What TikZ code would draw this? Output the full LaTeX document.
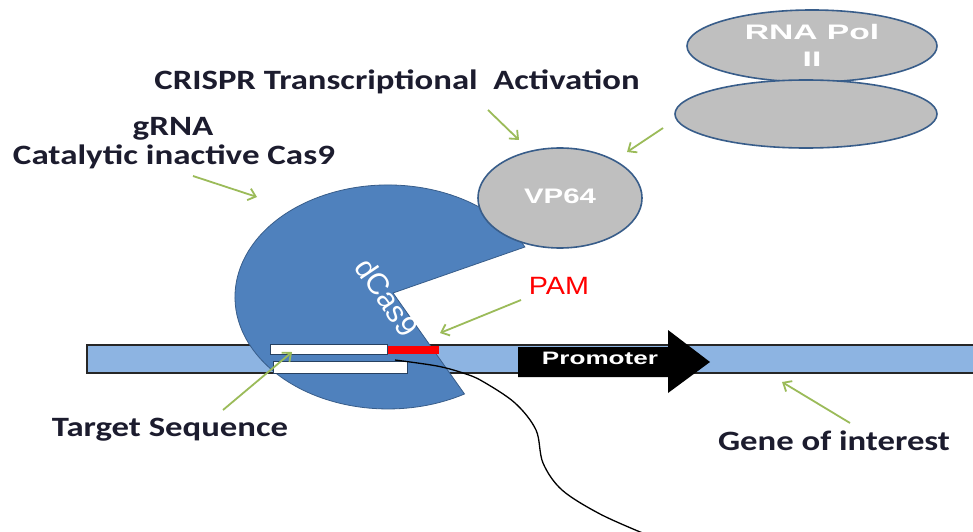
\documentclass[tikz,border=0pt]{standalone}
\usepackage{fontspec}
\setmainfont{Carlito}
\newfontfamily\sansf{Liberation Sans}
\usetikzlibrary{arrows.meta,shapes.geometric}

\definecolor{casblue}{HTML}{4F81BD}
\definecolor{edgeblue}{HTML}{385D8A}
\definecolor{dnablue}{HTML}{8DB4E2}
\definecolor{polgray}{HTML}{BFBFBF}
\definecolor{pointergreen}{HTML}{9BBB59}
\definecolor{ink}{HTML}{1C1C2E}
\definecolor{pamred}{HTML}{FF0000}

% horizontally widened text
\newcommand{\widetxt}[2]{\scalebox{#1}[1]{#2}}

\begin{document}
\begin{tikzpicture}[x=1pt,y=1pt,
  caption/.style={font=\fontsize{28}{30}\selectfont\bfseries, text=ink, inner sep=0pt, align=center},
  whitelabel/.style={font=\sansf\fontsize{21}{25}\selectfont\bfseries, text=white, inner sep=0pt, align=center},
  pointer/.style={draw=pointergreen, line width=1.8pt, -{Straight Barb[length=7pt,width=12pt]}},
  blob/.style={draw=edgeblue, line width=1.6pt, fill=polgray},
  strandbox/.style={draw=edgeblue!70!black, line width=0.6pt, fill=white}
]
\useasboundingbox (0,0) rectangle (973,531);
\fill[white] (0,0) rectangle (973,531);

% DNA double strand
\draw[fill=dnablue, draw=black!85, line width=1.5pt] (87,158) rectangle (990,186);

% dCas9 (pac-man shaped protein)
\filldraw[fill=casblue, draw=edgeblue, line width=0.8pt]
  (393,238) -- (524.9,284.0) arc[start angle=26.5, end angle=300, x radius=153, y radius=112] -- cycle;
\node[font=\sansf\fontsize{30}{30}\selectfont, text=white, rotate=-56, inner sep=0pt] (dcas) at (387,234) {dCas9};

% target sequence strands and PAM
\node[strandbox, minimum width=117pt, minimum height=10pt, inner sep=0pt] (tgtup) at (328.5,182) {};
\node[strandbox, minimum width=134pt, minimum height=12pt, inner sep=0pt] (tgtlow) at (340,164) {};
\node[fill=pamred, minimum width=51pt, minimum height=8pt, inner sep=0pt] (pambox) at (413.5,181) {};

% RNA strand leaving the complex
\coordinate (rnastart) at (395,171);
\draw[black, line width=1.3pt] plot[smooth, tension=0.55] coordinates
  {(rnastart) (437,165) (463,158) (482,150) (515,128) (536,101) (543,68) (562,41) (600,17) (645,-3)};

% promoter block arrow
\fill[black] (518,154) -- (668,154) -- (668,138) -- (710,169) -- (668,201) -- (668,184) -- (518,184) -- cycle;
\node[whitelabel, font=\sansf\fontsize{18}{20}\selectfont\bfseries] (prom) at (600,173) {\widetxt{1.45}{Promoter}};

% RNA Pol II
\node[blob, ellipse, minimum width=250pt, minimum height=72pt, inner sep=0pt] (polA) at (812,485) {};
\node[blob, ellipse, minimum width=262pt, minimum height=68pt, inner sep=0pt] (polB) at (806,417) {};
\node[whitelabel] (poltext) at (812,486) {\widetxt{1.6}{RNA Pol}\\[2pt]\widetxt{1.6}{II}};

% VP64 activator
\node[blob, ellipse, minimum width=164pt, minimum height=100pt, inner sep=0pt] (vp) at (560,333) {};
\node[whitelabel] (vptext) at (560,335) {\widetxt{1.4}{VP64}};

% labels
\node[caption] (title) at (397,449) {\widetxt{1.24}{CRISPR Transcriptional\ \ Activation}};
\node[caption] (grna) at (173,402) {\widetxt{1.25}{gRNA}};
\node[caption] (cas) at (174,374) {\widetxt{1.25}{Catalytic inactive Cas9}};
\node[font=\sansf\fontsize{25}{25}\selectfont, text=pamred, inner sep=0pt] (pam) at (559,245) {\widetxt{1.15}{PAM}};
\node[caption] (target) at (170,101) {\widetxt{1.24}{Target Sequence}};
\node[caption] (gene) at (834,90) {\widetxt{1.24}{Gene of interest}};

% pointer arrows
\coordinate (p1a) at (193,355); \coordinate (p1b) at (257,334);
\coordinate (p2a) at (488,421); \coordinate (p2b) at (519,391);
\coordinate (p3a) at (663,403); \coordinate (p3b) at (627,379);
\coordinate (p4a) at (521,231); \coordinate (p4b) at (440,198);
\coordinate (p5a) at (223,121); \coordinate (p5b) at (292,179);
\coordinate (p6a) at (850,108); \coordinate (p6b) at (782,149);
\draw[pointer] (p1a) -- (p1b);
\draw[pointer] (p2a) -- (p2b);
\draw[pointer] (p3a) -- (p3b);
\draw[pointer] (p4a) -- (p4b);
\draw[pointer] (p5a) -- (p5b);
\draw[pointer] (p6a) -- (p6b);
\end{tikzpicture}
\end{document}
